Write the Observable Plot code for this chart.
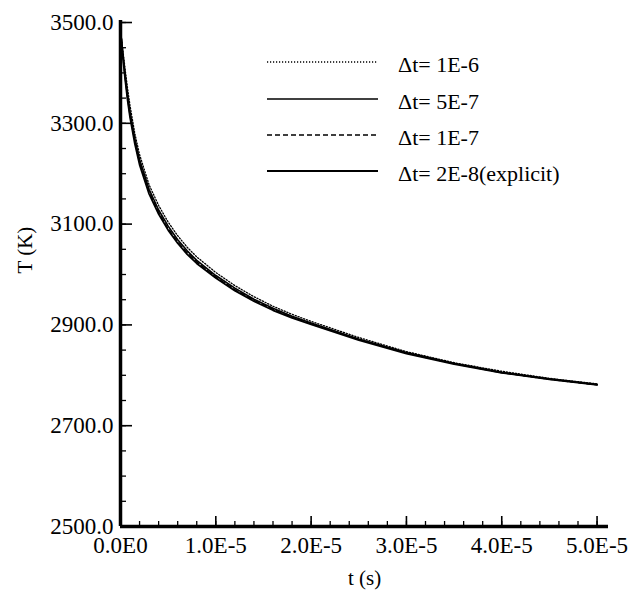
<!DOCTYPE html>
<html>
<head>
<meta charset="utf-8">
<script src="https://cdn.jsdelivr.net/npm/d3@7"></script>
<script src="https://cdn.jsdelivr.net/npm/@observablehq/plot@0.6"></script>
<style>
  html, body { margin: 0; padding: 0; background: #fff; }
  #chart { width: 629px; height: 593px; }
  #chart svg, #chart svg text { font-family: "Liberation Serif", "Times New Roman", Times, "DejaVu Serif", serif !important; }
</style>
</head>
<body>
<div id="chart"></div>
<script>
// time (s)
const times = [0, 2.5e-7, 5e-7, 7.5e-7, 1e-6, 1.5e-6, 2e-6, 3e-6, 4e-6, 5e-6, 6e-6, 7e-6, 8e-6,
  1e-5, 1.2e-5, 1.4e-5, 1.6e-5, 1.8e-5, 2e-5, 2.5e-5, 3e-5, 3.5e-5, 4e-5, 4.5e-5, 5e-5];
// temperature (K) per time step size
const T_dt1e6 = [3485, 3445, 3405, 3368, 3335, 3280, 3238, 3178, 3137, 3104, 3077, 3054, 3035,
  3004, 2978, 2956, 2937, 2921, 2907, 2875, 2847, 2825, 2808, 2794, 2783];
const T_dt5e7 = [3485, 3438, 3395, 3356, 3323, 3270, 3228, 3169, 3128, 3096, 3069, 3047, 3028,
  2998, 2973, 2951, 2933, 2917, 2904, 2872, 2845, 2824, 2806, 2793, 2782];
const T_dt1e7 = [3485, 3433, 3389, 3349, 3316, 3264, 3222, 3164, 3123, 3091, 3065, 3043, 3025,
  2995, 2970, 2949, 2931, 2915, 2902, 2871, 2844, 2823, 2805, 2792, 2781];
const T_dt2e8 = [3485, 3430, 3385, 3345, 3312, 3260, 3218, 3160, 3120, 3088, 3062, 3040, 3022,
  2993, 2968, 2947, 2929, 2914, 2901, 2870, 2843, 2822, 2805, 2792, 2781];

const seriesLabels = ["\u0394t= 1E-6", "\u0394t= 5E-7", "\u0394t= 1E-7", "\u0394t= 2E-8(explicit)"];
const yMajor = [2500, 2700, 2900, 3100, 3300, 3500];
const yMinor = d3.range(2500, 3501, 50);
const xMajor = [0, 1e-5, 2e-5, 3e-5, 4e-5, 5e-5];
const xMinor = d3.range(0, 51, 2).map(k => k * 1e-6);

const seriesValues = [T_dt1e6, T_dt5e7, T_dt1e7, T_dt2e8];
const styles = [
  {strokeWidth: 1.3, strokeDasharray: "1.2,1.8"},
  {strokeWidth: 1.6, strokeDasharray: null},
  {strokeWidth: 1.4, strokeDasharray: "5,3"},
  {strokeWidth: 1.8, strokeDasharray: null}
];
const tables = seriesValues.map(vals => times.map((t, i) => ({t, T: vals[i]})));

const W = 629, H = 593;
const mL = 120, mR = 21, mT = 20, mB = 67;
const plotW = W - mL - mR, plotH = H - mT - mB;
const FONT = "'Liberation Serif', 'Times New Roman', Times, 'DejaVu Serif', serif";

const fmtX = d => d === 0 ? "0.0E0" : (d / 1e-5).toFixed(1) + "E-5";
const fmtY = d3.format(".1f");

const chart = Plot.plot({
  width: W, height: H,
  marginLeft: mL, marginRight: mR, marginTop: mT, marginBottom: mB,
  style: {fontFamily: FONT, fontSize: "23px", color: "#000", background: "#fff"},
  x: {domain: [0, 5.12e-5]},
  y: {domain: [2500, 3504]},
  marks: [
    ...tables.map((tb, k) => Plot.line(tb, {x: "t", y: "T", stroke: "#000", ...styles[k]})),
    Plot.tickY(yMinor, {y: d => d, insetRight: plotW - 6, stroke: "#000", strokeWidth: 1.3}),
    Plot.tickY(yMajor, {y: d => d, insetRight: plotW - 12, stroke: "#000", strokeWidth: 1.6}),
    Plot.tickX(xMinor, {x: d => d, insetTop: plotH - 5, stroke: "#000", strokeWidth: 1.3}),
    Plot.tickX(xMajor, {x: d => d, insetTop: plotH - 10, stroke: "#000", strokeWidth: 1.6}),
    Plot.ruleX([0], {stroke: "#000", strokeWidth: 3.5}),
    Plot.ruleY([2500], {stroke: "#000", strokeWidth: 3.5}),
    Plot.axisY({ticks: yMajor, tickSize: 0, tickPadding: 7, tickFormat: fmtY, label: null, fontSize: 23}),
    Plot.axisX({ticks: xMajor, tickSize: 0, tickPadding: 10, tickFormat: fmtX, label: null, fontSize: 23}),
    Plot.text(["T (K)"], {frameAnchor: "left", dx: -95, rotate: -90, fontSize: 21}),
    Plot.text(["t (s)"], {frameAnchor: "bottom", dy: 58, fontSize: 21})
  ]
});
document.getElementById("chart").appendChild(chart);

// legend
const svg = d3.select(chart);
const lg = svg.append("g").attr("font-family", FONT).attr("font-size", 22).attr("text-anchor", "start");
const rowY = [62, 99, 135, 171];
seriesLabels.forEach((lab, k) => {
  lg.append("line").attr("x1", 267).attr("x2", 378).attr("y1", rowY[k]).attr("y2", rowY[k])
    .attr("stroke", "#000").attr("stroke-width", styles[k].strokeWidth)
    .attr("stroke-dasharray", styles[k].strokeDasharray);
  lg.append("text").attr("x", 398).attr("y", rowY[k] + 3).attr("dy", "0.32em")
    .attr("text-anchor", "start").text(lab);
});
</script>
</body>
</html>
